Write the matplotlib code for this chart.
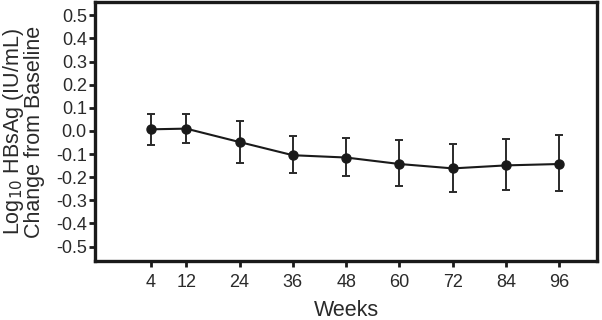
import numpy as np
import matplotlib.pyplot as plt

# mean log10 HBsAg change and error bar ends
WEEKS = [4, 12, 24, 36, 48, 60, 72, 84, 96]
MEAN = [0.007, 0.010, -0.048, -0.105, -0.115, -0.143, -0.162, -0.149, -0.143]
UPPER = [0.072, 0.072, 0.045, -0.020, -0.030, -0.040, -0.055, -0.037, -0.017]
LOWER = [-0.060, -0.050, -0.140, -0.180, -0.196, -0.236, -0.263, -0.255, -0.258]
Y_TICKS = [0.5, 0.4, 0.3, 0.2, 0.1, 0.0, -0.1, -0.2, -0.3, -0.4, -0.5]

narrow = ["Liberation Sans Narrow", "Liberation Sans", "DejaVu Sans"]
plt.rcParams["font.family"] = ["Liberation Sans", "DejaVu Sans"]

mean = np.array(MEAN)
yerr = [mean - np.array(LOWER), np.array(UPPER) - mean]

fig = plt.figure(figsize=(6.02, 3.20), dpi=100)
ax = fig.add_axes([0.158, 0.184, 0.834, 0.81])

ax.errorbar(WEEKS, MEAN, yerr=yerr, color="#1a1a1a", ecolor="#2a2a2a",
            elinewidth=1.4, capsize=3, capthick=1.4, marker="o",
            markersize=6.5, linewidth=1.5)

ax.set_xlim(-8.5, 104.5)
ax.set_ylim(-0.563, 0.558)
ax.set_xticks(WEEKS)
ax.set_yticks(Y_TICKS)
ax.set_yticklabels([f"{v:.1f}" for v in Y_TICKS])

for s in ax.spines.values():
    s.set_linewidth(2.4)
    s.set_color("#1a1a1a")
ax.tick_params(direction="out", length=4, width=2, color="#1a1a1a",
               labelsize=13, labelcolor="#2a2a2a")
ax.tick_params(axis="y", pad=2)
ax.tick_params(axis="x", pad=5)
for lab in ax.get_xticklabels() + ax.get_yticklabels():
    lab.set_family(narrow)

ax.set_xlabel("Weeks", fontsize=15.5, color="#2a2a2a", labelpad=7)
ax.set_ylabel("Log$_{10}$ HBsAg (IU/mL)\nChange from Baseline", fontsize=15.5,
              color="#2a2a2a", linespacing=0.85, labelpad=8)

fig.savefig("out.png", dpi=100)
